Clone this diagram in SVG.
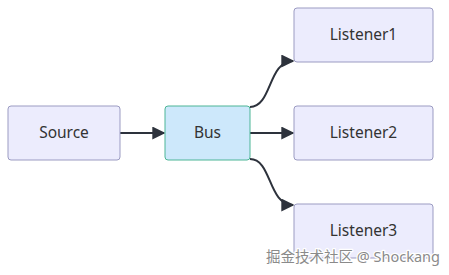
<svg xmlns="http://www.w3.org/2000/svg" width="449" height="275" viewBox="0 0 449 275">
<style>
.node rect{fill:#ececfd;stroke:#9b9bc2;stroke-width:1}
.node.bus rect{fill:#cde8fb;stroke:#4cb596}
.label{font-family:"Noto Sans","Liberation Sans",sans-serif;font-size:15.5px;fill:#333;text-anchor:middle;dominant-baseline:central}
.edge{fill:none;stroke:#2d323c;stroke-width:2}
.wm{font-family:"Noto Sans","Noto Sans CJK SC",sans-serif;font-size:14.5px;fill:#8a8a8a;stroke:#ffffff;stroke-width:2.5;paint-order:stroke;stroke-linejoin:round}
</style>
<defs>
<marker id="arrow" viewBox="0 0 10 10" refX="9" refY="5" markerWidth="6.5" markerHeight="6.5" markerUnits="strokeWidth" orient="auto">
<path d="M0,0 L10,5 L0,10 z" fill="#2d323c"/>
</marker>
</defs>
<g id="connectors">
<path class="edge" d="M120,133 L164,133" marker-end="url(#arrow)"/>
<path class="edge" d="M250,107 C272,107 268,61 293,61" marker-end="url(#arrow)"/>
<path class="edge" d="M250,133 L293,133" marker-end="url(#arrow)"/>
<path class="edge" d="M250,159 C272,159 268,205 293,205" marker-end="url(#arrow)"/>
</g>
<g id="source" class="node"><rect x="8" y="106" width="112" height="54" rx="3"/><text class="label" x="64" y="131.5">Source</text></g>
<g id="bus" class="node bus"><rect x="165" y="106" width="85" height="54" rx="3"/><text class="label" x="207.5" y="131.5">Bus</text></g>
<g id="listener1" class="node"><rect x="294" y="8" width="139" height="54" rx="3"/><text class="label" x="363.5" y="33.5">Listener1</text></g>
<g id="listener2" class="node"><rect x="294" y="106" width="139" height="54" rx="3"/><text class="label" x="363.5" y="131.5">Listener2</text></g>
<g id="listener3" class="node"><rect x="294" y="204" width="139" height="54" rx="3"/><text class="label" x="363.5" y="229.5">Listener3</text></g>
<text class="wm" x="266" y="262">掘金技术社区 @ Shockang</text>
</svg>
